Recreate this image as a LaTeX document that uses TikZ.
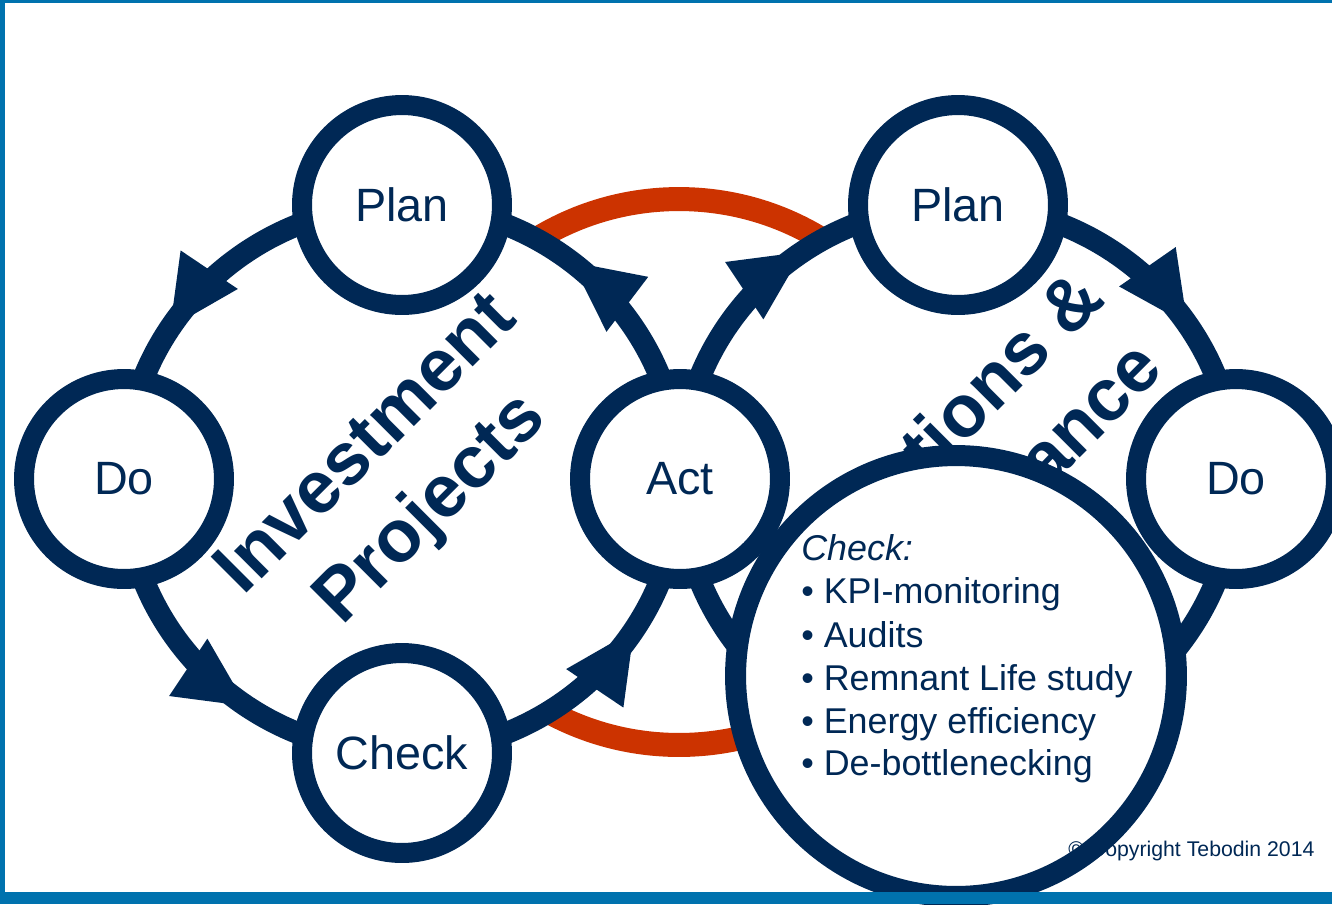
\documentclass[tikz,border=0pt]{standalone}
\usepackage{fontspec}
\setmainfont{Liberation Sans}
\usetikzlibrary{arrows.meta,decorations.markings}
\definecolor{dblue}{RGB}{0,40,85}
\definecolor{redarc}{RGB}{204,51,0}
\definecolor{frameblue}{RGB}{0,114,174}
\pgfdeclarelayer{back}
\pgfdeclarelayer{ringlayer}
\pgfdeclarelayer{front}
\pgfsetlayers{back,ringlayer,main,front}
\begin{document}
\begin{tikzpicture}[x=0.02cm,y=0.02cm,
  pdca/.style={circle, draw=dblue, line width=0.4cm, fill=white, minimum size=4cm, inner sep=0pt, text=dblue, font=\fontsize{26.6pt}{30pt}\selectfont},
  ring/.style={draw=dblue, line width=0.44cm},
  arrowmark/.style={postaction={decorate, decoration={markings, mark=at position #1 with {\arrow[dblue]{Triangle[length=1.4cm,width=1.38cm,line width=0pt]}}}}},
  arrowmark/.default=0.62,
  redline/.style={draw=redarc, line width=0.48cm},
  bigtitle/.style={rotate=45, align=center, text=dblue, inner sep=0pt, font=\bfseries\fontsize{42pt}{52pt}\selectfont},
  bigcheck/.style={circle, draw=dblue, line width=0.42cm, minimum size=8.82cm, inner sep=0pt},
  checkline/.style={anchor=base west, inner sep=0pt, text=dblue, font=\fontsize{20.4pt}{24pt}\selectfont},
  copyr/.style={anchor=base west, inner sep=0pt, text=dblue, font=\fontsize{12.1pt}{14pt}\selectfont}
]
\useasboundingbox (0,0) rectangle (1332,-904);

% nodes
\node[pdca] (PlanL) at (402,-205) {Plan};
\node[pdca] (DoL) at (124,-479) {Do};
\node[pdca] (CheckL) at (402,-753) {Check};
\node[pdca] (Act) at (680,-479) {Act};
\node[pdca] (PlanR) at (958,-205) {Plan};
\node[pdca] (DoR) at (1236,-479) {Do};

\begin{pgfonlayer}{back}
  \fill[white] (0,0) rectangle (1332,-904);
  \draw[redline] (679,-472) circle[radius=5.46cm];
  \fill[white] (402,-479) ellipse[x radius=5.56cm, y radius=5.48cm];
  \fill[white] (958,-479) ellipse[x radius=5.56cm, y radius=5.48cm];
  \node[bigtitle] (inv) at (401,-479) {Investment\\Projects};
  \node[bigtitle] (om) at (957,-479) {Operations \&\\Maintenance};
\end{pgfonlayer}

\begin{pgfonlayer}{ringlayer}
  \draw[ring, arrowmark=0.63] (PlanL.center) arc[start angle=90, end angle=180, x radius=5.56cm, y radius=5.48cm];
  \draw[ring, arrowmark=0.62] (DoL.center) arc[start angle=180, end angle=270, x radius=5.56cm, y radius=5.48cm];
  \draw[ring, arrowmark=0.63] (CheckL.center) arc[start angle=270, end angle=360, x radius=5.56cm, y radius=5.48cm];
  \draw[ring, arrowmark=0.58] (Act.center) arc[start angle=0, end angle=90, x radius=5.56cm, y radius=5.48cm];
  \draw[ring, arrowmark=0.62] (Act.center) arc[start angle=180, end angle=90, x radius=5.56cm, y radius=5.48cm];
  \draw[ring, arrowmark=0.62] (PlanR.center) arc[start angle=90, end angle=0, x radius=5.56cm, y radius=5.48cm];
  \draw[ring] (DoR.center) arc[start angle=0, end angle=-180, x radius=5.56cm, y radius=5.48cm];
\end{pgfonlayer}

\begin{pgfonlayer}{front}
  \fill[white] (956,-676) circle[radius=4.41cm];
  \node[copyr] (copy) at (1068,-856) {© Copyright Tebodin 2014};
  \node[bigcheck] (big) at (956,-676) {};
  \node[checkline, font=\fontsize{20.4pt}{24pt}\selectfont\itshape] (c0) at (801,-560) {Check:};
  \node[checkline] (c1) at (801,-603) {• KPI-monitoring};
  \node[checkline] (c2) at (801,-647) {• Audits};
  \node[checkline] (c3) at (801,-690) {• Remnant Life study};
  \node[checkline] (c4) at (801,-733) {• Energy efficiency};
  \node[checkline] (c5) at (801,-775) {• De-bottlenecking};
  \fill[frameblue] (0,0) rectangle (1332,-3);
  \fill[frameblue] (0,0) rectangle (5,-904);
  \fill[frameblue] (0,-892) rectangle (1332,-904);
\end{pgfonlayer}
\end{tikzpicture}
\end{document}
